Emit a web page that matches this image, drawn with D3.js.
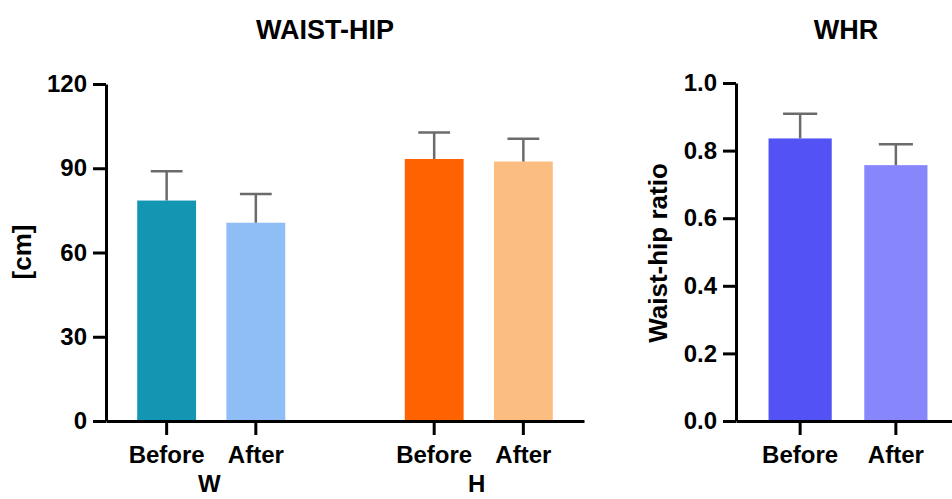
<!DOCTYPE html>
<html>
<head>
<meta charset="utf-8">
<script src="https://cdn.jsdelivr.net/npm/d3@7"></script>
<style>
  body { margin: 0; background: #fff; }
  svg { display: block; font-family: "Liberation Sans", Arial, sans-serif; }
  .axis path, .axis line { stroke: #000; stroke-width: 3; }
  .axis text { font-size: 24px; font-weight: bold; fill: #000; }
</style>
</head>
<body>
<svg id="chart" width="952" height="499"></svg>
<script>
// ---- data ----
var waistHipSlots = ["W-Before", "W-After", "gap", "H-Before", "H-After"];
var waistHipBars = ["W-Before", "W-After", "H-Before", "H-After"];
var waistHipMean = [78.5, 70.6, 93.3, 92.4];
var waistHipSD = [10.4, 10.2, 9.4, 8.1];
var waistHipColors = ["#1396b2", "#8fbdf6", "#ff6200", "#fcbd80"];
var waistHipGroups = ["W", "H"];
var waistHipTicks = [0, 30, 60, 90, 120];

var whrBars = ["Before", "After"];
var whrMean = [0.836, 0.757];
var whrSD = [0.073, 0.062];
var whrColors = ["#5252f5", "#8787fb"];
var whrTicks = [0, 0.2, 0.4, 0.6, 0.8, 1.0];

var svg = d3.select("#chart");

// shared vertical layout
var yTop = 84, yBottom = 421;

// draw bars + error bars
function drawBars(g, x, y, keys, means, sds, colors) {
    g.selectAll(".bar")
        .data(keys)
        .enter()
        .append("rect")
        .attr("class", "bar")
        .attr("x", function (d) { return x(d); })
        .attr("width", x.bandwidth())
        .attr("y", function (d, i) { return y(means[i]); })
        .attr("height", function (d, i) { return y(0) - y(means[i]); })
        .attr("fill", function (d, i) { return colors[i]; });

    var err = g.selectAll(".err")
        .data(keys)
        .enter()
        .append("g")
        .attr("class", "err")
        .attr("stroke", "#6b6b6b")
        .attr("stroke-width", 2.5);
    err.append("line")
        .attr("x1", function (d) { return x(d) + x.bandwidth() / 2; })
        .attr("x2", function (d) { return x(d) + x.bandwidth() / 2; })
        .attr("y1", function (d, i) { return y(means[i]); })
        .attr("y2", function (d, i) { return y(means[i] + sds[i]); });
    err.append("line")
        .attr("x1", function (d) { return x(d) + x.bandwidth() * 0.23; })
        .attr("x2", function (d) { return x(d) + x.bandwidth() * 0.77; })
        .attr("y1", function (d, i) { return y(means[i] + sds[i]); })
        .attr("y2", function (d, i) { return y(means[i] + sds[i]); });
}

//////////////////// WAIST-HIP ////////////////////
var xWH = d3.scaleBand()
    .domain(waistHipSlots)
    .range([106, 584])
    .paddingInner(0.34)
    .paddingOuter(0.35);
var yWH = d3.scaleLinear().domain([0, 120]).range([yBottom, yTop]);

var gWH = svg.append("g");
drawBars(gWH, xWH, yWH, waistHipBars, waistHipMean, waistHipSD, waistHipColors);

gWH.append("g")
    .attr("class", "axis")
    .attr("transform", "translate(0," + yBottom + ")")
    .call(d3.axisBottom(xWH).tickValues(waistHipBars).tickSize(14).tickSizeOuter(0).tickPadding(11)
        .tickFormat(function (d) { return d.split("-")[1]; }));

gWH.append("g")
    .attr("class", "axis")
    .attr("transform", "translate(106,0)")
    .call(d3.axisLeft(yWH).tickValues(waistHipTicks).tickSize(13).tickSizeOuter(0).tickPadding(6));

// group labels
waistHipGroups.forEach(function (grp) {
    var cx = (xWH(grp + "-Before") + xWH(grp + "-After") + xWH.bandwidth()) / 2;
    gWH.append("text")
        .attr("x", cx - 2)
        .attr("y", 492)
        .attr("text-anchor", "middle")
        .style("font-size", "24px")
        .style("font-weight", "bold")
        .text(grp);
});

gWH.append("text")
    .attr("transform", "translate(22,252) rotate(-90)")
    .attr("text-anchor", "middle")
    .attr("dominant-baseline", "central")
    .style("font-size", "26px")
    .style("font-weight", "bold")
    .text("[cm]");

svg.append("text")
    .attr("x", 325).attr("y", 39)
    .attr("text-anchor", "middle")
    .style("font-size", "27px")
    .style("font-weight", "bold")
    .text("WAIST-HIP");

//////////////////// WHR ////////////////////
var xWHR = d3.scaleBand()
    .domain(whrBars)
    .range([736, 960])
    .paddingInner(0.34)
    .paddingOuter(0.34);
var yWHR = d3.scaleLinear().domain([0, 1]).range([yBottom, yTop - 1]);

var gWHR = svg.append("g");
drawBars(gWHR, xWHR, yWHR, whrBars, whrMean, whrSD, whrColors);

gWHR.append("g")
    .attr("class", "axis")
    .attr("transform", "translate(0," + yBottom + ")")
    .call(d3.axisBottom(xWHR).tickSize(14).tickSizeOuter(0).tickPadding(11));

gWHR.append("g")
    .attr("class", "axis")
    .attr("transform", "translate(736,0)")
    .call(d3.axisLeft(yWHR).tickValues(whrTicks).tickSize(13).tickSizeOuter(0).tickPadding(6)
        .tickFormat(d3.format(".1f")));

gWHR.append("text")
    .attr("transform", "translate(658,253) rotate(-90)")
    .attr("text-anchor", "middle")
    .attr("dominant-baseline", "central")
    .style("font-size", "26px")
    .style("font-weight", "bold")
    .text("Waist-hip ratio");

svg.append("text")
    .attr("x", 846).attr("y", 39)
    .attr("text-anchor", "middle")
    .style("font-size", "27px")
    .style("font-weight", "bold")
    .text("WHR");
</script>
</body>
</html>
